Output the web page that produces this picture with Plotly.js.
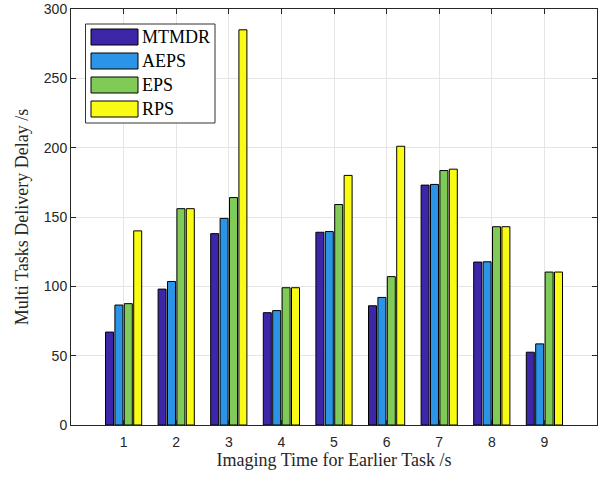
<!DOCTYPE html>
<html><head><meta charset="utf-8">
<script src="https://cdn.plot.ly/plotly-3.0.1.min.js"></script>
<style>body{margin:0;padding:0;background:#fff}#chart{width:605px;height:481px}</style>
</head><body><div id="chart"></div>
<script>
const categories = [1,2,3,4,5,6,7,8,9];
const seriesNames = ['MTMDR','AEPS','EPS','RPS'];
const MTMDR = [67, 98, 138, 81, 139, 86, 173, 117.5, 52.5];
const AEPS  = [86.5, 103.5, 149, 82.5, 139.5, 92, 173.5, 117.7, 58.5];
const EPS   = [87.5, 156, 164, 99, 159, 107, 183.5, 143, 110.3];
const RPS   = [140, 156, 285, 99, 180, 201, 184.5, 143, 110.3];
const yTicks = [0,50,100,150,200,250,300];

const colors = ['#3e26a8','#2b94e6','#80cb58','#f9fb14'];
const values = [MTMDR, AEPS, EPS, RPS];
const serif = 'Liberation Serif, Times New Roman, serif';
const sans = 'Liberation Sans, Arial, sans-serif';

const traces = seriesNames.map((n,i)=>({
  type:'bar', name:n, x:categories, y:values[i],
  marker:{color:colors[i], line:{color:'#000', width:1}},
  showlegend:false, hoverinfo:'skip'
}));

// custom legend (MATLAB style boxes)
const shapes = [];
const annotations = [];
const lx0 = 85.5, ly0 = 24, lw = 129.5, lh = 99;
function px2x(px){ return (px-71)/(597-71); }
function py2y(py){ return 1-(py-9)/(425-9); }
shapes.push({type:'rect', xref:'paper', yref:'paper',
  x0:px2x(lx0), x1:px2x(lx0+lw), y0:py2y(ly0+lh), y1:py2y(ly0),
  line:{color:'#333', width:1}, fillcolor:'#fff', layer:'above'});
seriesNames.forEach((n,i)=>{
  const cy = 37 + i*24;
  shapes.push({type:'rect', xref:'paper', yref:'paper',
    x0:px2x(91), x1:px2x(138), y0:py2y(cy+8), y1:py2y(cy-8),
    line:{color:'#000', width:1}, fillcolor:colors[i], layer:'above'});
  annotations.push({xref:'paper', yref:'paper', x:px2x(140), y:py2y(cy),
    xanchor:'left', yanchor:'middle', showarrow:false, text:n,
    font:{family:serif, size:18, color:'#000'}});
});

const layout = {
  width:605, height:481,
  margin:{l:71, r:8, t:9, b:56},
  paper_bgcolor:'#fff', plot_bgcolor:'#fff',
  barmode:'group', bargap:0.285, bargroupgap:0.15,
  font:{family:sans, size:14, color:'#262626'},
  xaxis:{range:[0,10], tickvals:categories, ticktext:categories.map(String),
    ticks:'inside', ticklen:5, tickcolor:'#262626', showgrid:true, gridcolor:'#e5e5e5',
    showline:true, linecolor:'#262626', linewidth:1, mirror:'ticks', zeroline:false,
    ticklabelstandoff:4,
    tickfont:{family:sans, size:14, color:'#262626'},
    title:{text:'Imaging Time for Earlier Task /s', font:{family:serif, size:18, color:'#262626'}, standoff:4}},
  yaxis:{range:[0,300], tickvals:yTicks, ticks:'inside', ticklen:5, tickcolor:'#262626',
    showgrid:true, gridcolor:'#e5e5e5', showline:true, linecolor:'#262626', linewidth:1,
    mirror:'ticks', zeroline:false,
    tickfont:{family:sans, size:14, color:'#262626'},
    title:{text:'Multi Tasks Delivery Delay /s', font:{family:serif, size:18, color:'#262626'}, standoff:10}},
  shapes:shapes, annotations:annotations
};
Plotly.newPlot('chart', traces, layout, {displayModeBar:false, staticPlot:true});
</script></body></html>
